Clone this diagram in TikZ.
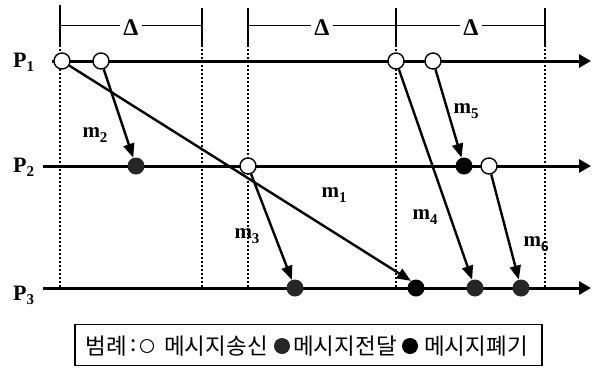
\documentclass[tikz,border=0pt]{standalone}
\usepackage{fontspec}
\setmainfont{Liberation Serif}
\newfontfamily\krfont{Noto Sans CJK KR}
\usetikzlibrary{arrows.meta}
\newcommand\lowsub[1]{\raisebox{-0.45ex}{\fontsize{15}{15}\selectfont #1}}
\begin{document}
\begin{tikzpicture}[x=1pt,y=-1pt,
 proc/.style={line width=3pt,-{Triangle[length=12pt,width=13pt]}},
 msg/.style={line width=2.4pt,-{Triangle[length=14pt,width=11pt]}},
 sendc/.style={circle,draw,line width=1.4pt,fill=white,minimum size=16pt,inner sep=0pt},
 delc/.style={circle,fill=black!85,minimum size=17pt,inner sep=0pt},
 disc/.style={circle,fill=black,minimum size=17pt,inner sep=0pt},
 guide/.style={line width=2pt,dash pattern=on 1.8pt off 2.2pt},
 tickmark/.style={line width=2pt},
 spanline/.style={line width=0.9pt},
 plabel/.style={font=\bfseries\fontsize{22}{22}\selectfont,inner sep=0pt,anchor=base west},
 mlabel/.style={font=\bfseries\fontsize{21}{21}\selectfont,inner sep=0pt},
 dlabel/.style={font=\bfseries\fontsize{24}{24}\selectfont,inner sep=3pt},
 legtext/.style={font=\krfont\fontsize{22.5}{22.5}\selectfont,inner sep=0pt},
 legbox/.style={draw,line width=1.2pt,minimum width=467pt,minimum height=41pt,inner sep=0pt}
]
\useasboundingbox (0,0) rectangle (597,368);

% time-interval brackets
\coordinate (ta1) at (60,5);   \coordinate (tb1) at (60,45);
\coordinate (ta2) at (202,8);  \coordinate (tb2) at (202,45);
\coordinate (ta3) at (248,8);  \coordinate (tb3) at (248,45);
\coordinate (ta4) at (396,8);  \coordinate (tb4) at (396,45);
\coordinate (ta5) at (545,8);  \coordinate (tb5) at (545,45);
\foreach \i in {1,...,5} \draw[tickmark] (ta\i) -- (tb\i);

\coordinate (h1a) at (60,25);  \coordinate (h1b) at (202,25);
\coordinate (h2a) at (248,25); \coordinate (h2b) at (396,25);
\coordinate (h3a) at (396,25); \coordinate (h3b) at (545,25);
\node[dlabel] (d1) at (131,28) {Δ};
\node[dlabel] (d2) at (322,28) {Δ};
\node[dlabel] (d3) at (471,28) {Δ};
\draw[spanline] (h1a) -- (d1.west |- h1a) (d1.east |- h1a) -- (h1b);
\draw[spanline] (h2a) -- (d2.west |- h2a) (d2.east |- h2a) -- (h2b);
\draw[spanline] (h3a) -- (d3.west |- h3a) (d3.east |- h3a) -- (h3b);

% dotted guides
\coordinate (gb1) at (60,288);
\coordinate (gb2) at (202,288);
\coordinate (gb3) at (248,288);
\coordinate (gb4) at (396,288);
\coordinate (gb5) at (545,288);
\foreach \i in {1,...,5} \draw[guide] (tb\i) -- (gb\i);

% process lines
\coordinate (p1s) at (52,61);  \coordinate (p1e) at (591,61);
\coordinate (p2s) at (43,166); \coordinate (p2e) at (591,166);
\coordinate (p3s) at (43,288); \coordinate (p3e) at (591,288);
\draw[proc] (p1s) -- (p1e);
\draw[proc] (p2s) -- (p2e);
\draw[proc] (p3s) -- (p3e);
\node[plabel] (P1) at (13,67) {P\lowsub{1}};
\node[plabel] (P2) at (13,172) {P\lowsub{2}};
\node[plabel] (P3) at (13,300) {P\lowsub{3}};

% events
\node[sendc] (s1) at (62,61) {};
\node[sendc] (s2) at (101,61) {};
\node[sendc] (s4) at (396,61) {};
\node[sendc] (s5) at (433,61) {};
\node[delc]  (r2) at (136,166) {};
\node[sendc] (s3) at (248,166) {};
\node[disc]  (r5) at (464,166) {};
\node[sendc] (s6) at (489,166) {};
\node[delc]  (r3) at (295,288) {};
\node[disc]  (r1) at (416,288) {};
\node[delc]  (r4) at (475,288) {};
\node[delc]  (r6) at (521,288) {};

% messages
\draw[msg] (s1) -- (r1.125);
\draw[msg] (s2) -- (r2);
\draw[msg] (s3) -- (r3);
\draw[msg] (s4) -- (r4);
\draw[msg] (s5) -- (r5);
\draw[msg] (s6) -- (r6);
\node[mlabel] (m1) at (334,195) {m\lowsub{1}};
\node[mlabel] (m2) at (95,135) {m\lowsub{2}};
\node[mlabel] (m3) at (247,236) {m\lowsub{3}};
\node[mlabel] (m4) at (425,217) {m\lowsub{4}};
\node[mlabel] (m5) at (466,111) {m\lowsub{5}};
\node[mlabel] (m6) at (536,244) {m\lowsub{6}};

% legend
\node[legbox] (leg) at (308.5,345) {};
\node[legtext] (lt0) at (106,346) {범례};
\node[legtext] (lt0b) at (134,346) {:};
\node[sendc,minimum size=13pt,line width=1pt] (lc1) at (147,346) {};
\node[legtext] (lt1) at (216,346) {메시지송신};
\node[delc,minimum size=16pt] (lc2) at (282,346) {};
\node[legtext] (lt2) at (345,346) {메시지전달};
\node[disc,minimum size=16pt] (lc3) at (410,346) {};
\node[legtext] (lt3) at (476,346) {메시지폐기};
\end{tikzpicture}
\end{document}
